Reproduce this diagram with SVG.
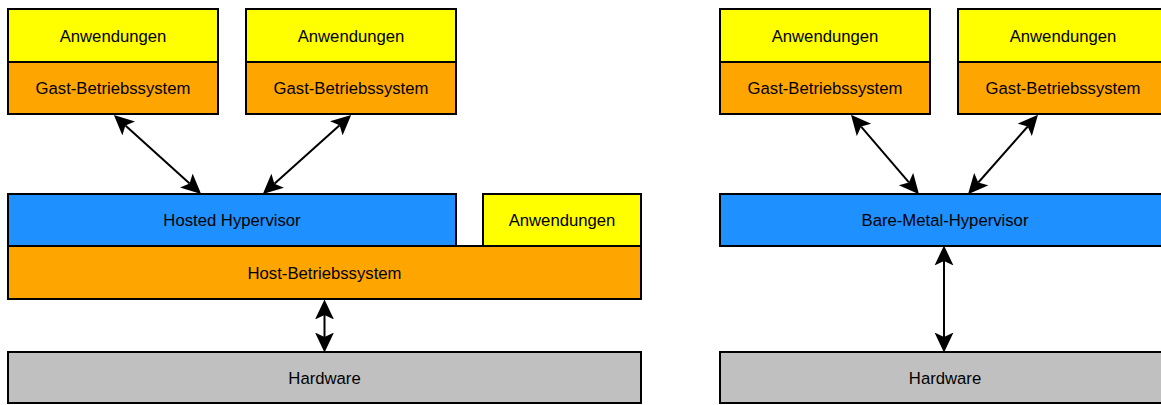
<svg xmlns="http://www.w3.org/2000/svg" width="1161" height="405" viewBox="0 0 1161 405">
  <defs>
    <style>
      rect { stroke: #000; stroke-width: 2; }
      .app { fill: #ffff00; }
      .os { fill: #ffa500; }
      .hv { fill: #1e90ff; }
      .hw { fill: #c0c0c0; }
      text { font-family: "Liberation Sans", Arial, sans-serif; font-size: 16.7px; fill: #000; text-anchor: middle; }
      .link { stroke: #000; stroke-width: 2; fill: none; marker-start: url(#head); marker-end: url(#head); }
    </style>
    <marker id="head" markerUnits="userSpaceOnUse" markerWidth="20" markerHeight="20" viewBox="0 -9 18 18" refX="4" refY="0" orient="auto-start-reverse">
      <path d="M18,0 L0,-8.5 L4,0 L0,8.5 Z" fill="#000"/>
    </marker>
  </defs>

  <!-- hosted (type 2) stack -->
  <g id="vm1-apps"><rect class="app" x="8" y="9" width="210" height="53"/><text x="113" y="41.5">Anwendungen</text></g>
  <g id="vm1-os"><rect class="os" x="8" y="62" width="210" height="52"/><text x="113" y="94">Gast-Betriebssystem</text></g>
  <g id="vm2-apps"><rect class="app" x="246" y="9" width="210" height="53"/><text x="351" y="41.5">Anwendungen</text></g>
  <g id="vm2-os"><rect class="os" x="246" y="62" width="210" height="52"/><text x="351" y="94">Gast-Betriebssystem</text></g>
  <g id="hosted-hypervisor"><rect class="hv" x="8" y="194" width="448" height="52"/><text x="232" y="226">Hosted Hypervisor</text></g>
  <g id="host-apps"><rect class="app" x="483" y="194" width="158" height="52"/><text x="562" y="226">Anwendungen</text></g>
  <g id="host-os"><rect class="os" x="8" y="246" width="633" height="53"/><text x="324.5" y="278.5">Host-Betriebssystem</text></g>
  <g id="hardware-left"><rect class="hw" x="8" y="352" width="633" height="51"/><text x="324.5" y="383.5">Hardware</text></g>

  <!-- bare-metal (type 1) stack -->
  <g id="vm3-apps"><rect class="app" x="720" y="9" width="210" height="53"/><text x="825" y="41.5">Anwendungen</text></g>
  <g id="vm3-os"><rect class="os" x="720" y="62" width="210" height="52"/><text x="825" y="94">Gast-Betriebssystem</text></g>
  <g id="vm4-apps"><rect class="app" x="958" y="9" width="210" height="53"/><text x="1063" y="41.5">Anwendungen</text></g>
  <g id="vm4-os"><rect class="os" x="958" y="62" width="210" height="52"/><text x="1063" y="94">Gast-Betriebssystem</text></g>
  <g id="bare-metal-hypervisor"><rect class="hv" x="720" y="194" width="450" height="52"/><text x="945" y="226">Bare-Metal-Hypervisor</text></g>
  <g id="hardware-right"><rect class="hw" x="720" y="352" width="450" height="51"/><text x="945" y="383.5">Hardware</text></g>

  <!-- connectors -->
  <g id="connectors">
    <line class="link" x1="125.4" y1="125.4" x2="189.6" y2="183.6"/>
    <line class="link" x1="274.4" y1="183.7" x2="339.6" y2="125.3"/>
    <line class="link" x1="324.5" y1="315" x2="324.5" y2="337"/>
    <line class="link" x1="861.1" y1="126.6" x2="908.9" y2="182.4"/>
    <line class="link" x1="978.3" y1="182.5" x2="1027.7" y2="126.5"/>
    <line class="link" x1="944" y1="261" x2="944" y2="337"/>
  </g>
</svg>
